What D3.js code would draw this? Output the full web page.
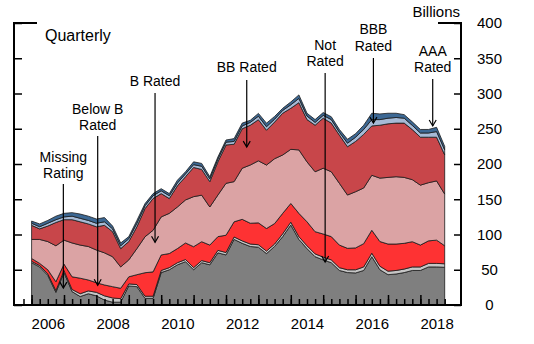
<!DOCTYPE html>
<meta charset="utf-8">
<style>
body { margin: 0; background: #fff; }
svg { font-family: Arial, "Liberation Sans", sans-serif; }
.axis text { font-size: 15px; fill: #000; }
.axis line { stroke: #000; stroke-width: 1.5px; }
.axis path { display: none; }
.layer { stroke: #1a1a1a; stroke-width: 0.8px; stroke-linejoin: round; }
.note { font-size: 14px; fill: #000; text-anchor: middle; }
.arrow { stroke: #000; stroke-width: 1.2px; fill: none; }
</style>
<body>
<div id="chart"></div>
<script src="https://d3js.org/d3.v7.min.js"></script>
<script>
// quarterly, billions of dollars, bottom to top of the stack
var quarters = [
  "2006Q1","2006Q2","2006Q3","2006Q4","2007Q1","2007Q2","2007Q3","2007Q4",
  "2008Q1","2008Q2","2008Q3","2008Q4","2009Q1","2009Q2","2009Q3","2009Q4",
  "2010Q1","2010Q2","2010Q3","2010Q4","2011Q1","2011Q2","2011Q3","2011Q4",
  "2012Q1","2012Q2","2012Q3","2012Q4","2013Q1","2013Q2","2013Q3","2013Q4",
  "2014Q1","2014Q2","2014Q3","2014Q4","2015Q1","2015Q2","2015Q3","2015Q4",
  "2016Q1","2016Q2","2016Q3","2016Q4","2017Q1","2017Q2","2017Q3","2017Q4",
  "2018Q1","2018Q2","2018Q3","2018Q4"];
var missing = [60,54,42,18,46,19,12,16,13,7,4,4,27,26,9.5,9.5,46,50,57,61.5,50,60,57,74,71,93,87.5,83,82,73,83,97,113.5,93,80,68.5,64,60,49,46,45.5,49,68.5,50,43,44,46,49,49,54,54,53.5];
var notRated = [2,2,2,2.5,3,3,4,4,5,6,6,5,3,3,3,3,3,3,3,3,3,3,3,3.5,3.5,3.5,3.5,3.5,3.5,3.5,3.5,4,4,4,4,4,4,4,4,4,4.5,5,5,5,5,5,5,5,5,5,5,5];
var belowB = [4,3,6,12.5,9,18,22,15.5,13.6,15.4,16,14.7,10,14,33.3,34.5,22,20,20,23.5,29.7,26.8,25,19.5,24.5,21.5,30.5,29.5,31,32,29,29,26.5,33,34,31.5,32.7,33,32,30.4,31,33,32.5,35,38.5,37.5,36.5,35.8,31,32,33,25.5];
var bRated = [27,34,40,51,34,48,47,47.5,46.4,45.6,42.5,30.3,24,37,51,59,54,57,59,61,71,66,54,59,73.6,57,72.5,82.6,88,90,92,82.8,76.8,90,85,85,93.3,92,87.6,75.6,79.7,79,78,90,94.5,95.5,93.5,88,85,82.5,84,73.4];
var bbRated = [20,15,22,33,29,33,33,32,33,39,35.5,26,26,31,40,45,33,21,30,33,41.4,36.5,36,47,54.4,53,56,56.4,58.3,49.4,52,59.2,58.2,67,60,66,71,69,68.4,68.5,71.3,76,70,75,76,76,77,71,68,64.5,62,55.6];
var bbbRated = [3,3,4,4,4,5,5,5,5,5,4,4,4,5,4,4,4,4,4,4,4,4.5,4,4,4,4,4,4,5,5,4,4,5,6,5,4,4,5,4,5,6,7,9,8,8,8,7,6,6,6,8,7];
var aaaRated = [3,4,4,5,5,5,6,6,6,6,4,4,3,4,3,3,3,3,4,3,4,4,3,3,3,4,4,3,4,5,4,3,4,5,4,4,4,4,4,5.5,5,6,9,8,7,6,5,5,5,5,6,5];

var keys = ["missing", "notRated", "belowB", "bRated", "bbRated", "bbbRated", "aaaRated"];
var colors = ["#7f7f7f", "#c6c6c6", "#fe3233", "#dba3a4", "#c8464a", "#a6bad6", "#3c6894"];
var yTicks = [0, 50, 100, 150, 200, 250, 300, 350, 400];

// label text, x (year) of arrow, arrow tip (billions), line top (px), text baselines (px)
var notes = [
  { lines: ["Missing", "Rating"], t: 2006.98, tip: 24, top: 184, base: [161.5, 177.5] },
  { lines: ["Below B", "Rated"], t: 2008.04, tip: 28, top: 136, base: [113.5, 129.5] },
  { lines: ["B Rated"], t: 2009.81, tip: 89, top: 93, base: [85.5] },
  { lines: ["BB Rated"], t: 2012.64, tip: 224, top: 80, base: [71.5] },
  { lines: ["Not", "Rated"], t: 2015.06, tip: 61, top: 73, base: [49.5, 66] },
  { lines: ["BBB", "Rated"], t: 2016.55, tip: 258, top: 58, base: [34, 50.5] },
  { lines: ["AAA", "Rated"], t: 2018.38, tip: 254, top: 79, base: [56, 72] }
];

var series = { missing: missing, notRated: notRated, belowB: belowB, bRated: bRated,
  bbRated: bbRated, bbbRated: bbbRated, aaaRated: aaaRated };
var table = quarters.map(function(q, i) {
  var row = { t: +q.slice(0, 4) + (+q.slice(5) - 1) / 4 };
  keys.forEach(function(k) { row[k] = series[k][i]; });
  return row;
});

var width = 534, height = 344;
var x = d3.scaleLinear().domain([2006, 2018]).range([31.6, 420.4]);
var y = d3.scaleLinear().domain([0, 400]).range([305, 23]);

var svg = d3.select("#chart").append("svg")
    .attr("width", width)
    .attr("height", height);

var layers = d3.stack().keys(keys)(table);
var area = d3.area()
    .x(function(d) { return x(d.data.t); })
    .y0(function(d) { return y(d[0]); })
    .y1(function(d) { return y(d[1]); });

svg.selectAll(".layer")
    .data(layers)
    .enter().append("path")
    .attr("class", "layer")
    .attr("fill", function(d, i) { return colors[i]; })
    .attr("d", area);

// quarter ticks and longer year ticks, drawn inward
svg.append("g")
    .attr("class", "axis")
    .attr("transform", "translate(0,305)")
    .call(d3.axisBottom(x).tickValues(d3.range(2005.75, 2018.8, 0.25)).tickSize(-6).tickFormat(""));
svg.append("g")
    .attr("class", "axis")
    .attr("transform", "translate(0,305)")
    .call(d3.axisBottom(x).tickValues(d3.range(2006, 2019)).tickSize(-10).tickFormat(""));
svg.append("g")
    .attr("class", "axis")
    .attr("transform", "translate(0,305)")
    .call(d3.axisBottom(x).tickValues(d3.range(2006.5, 2019, 2)).tickSize(0).tickPadding(13)
        .tickFormat(function(d) { return Math.floor(d); }));

svg.append("g")
    .attr("class", "axis")
    .attr("transform", "translate(14,0)")
    .call(d3.axisRight(y).tickValues(yTicks).tickSize(8).tickFormat(""));

var yAxis = svg.append("g")
    .attr("class", "axis")
    .attr("transform", "translate(461,0)")
    .call(d3.axisRight(y).tickValues(yTicks).tickSize(-7));
yAxis.selectAll("text").attr("x", 28.5).attr("text-anchor", "middle");

svg.append("path")
    .attr("d", "M37,23H14V305H461V23H438")
    .attr("fill", "none")
    .attr("stroke", "#000")
    .attr("stroke-width", 2);

svg.append("text").attr("x", 45).attr("y", 40.5)
    .style("font-size", "16px").text("Quarterly");
svg.append("text").attr("x", 460).attr("y", 17)
    .attr("text-anchor", "end").style("font-size", "15px").text("Billions");

var note = svg.selectAll(".ann")
    .data(notes)
    .enter().append("g")
    .attr("class", "ann");
note.each(function(d) {
    var g = d3.select(this), cx = x(d.t), ty = y(d.tip);
    d.lines.forEach(function(s, j) {
        g.append("text").attr("class", "note").attr("x", cx).attr("y", d.base[j]).text(s);
    });
    g.append("line").attr("class", "arrow")
        .attr("x1", cx).attr("x2", cx).attr("y1", d.top).attr("y2", ty);
    g.append("path").attr("class", "arrow")
        .attr("d", "M" + (cx - 3.5) + "," + (ty - 6) + "L" + cx + "," + ty + "L" + (cx + 3.5) + "," + (ty - 6));
});
</script>
